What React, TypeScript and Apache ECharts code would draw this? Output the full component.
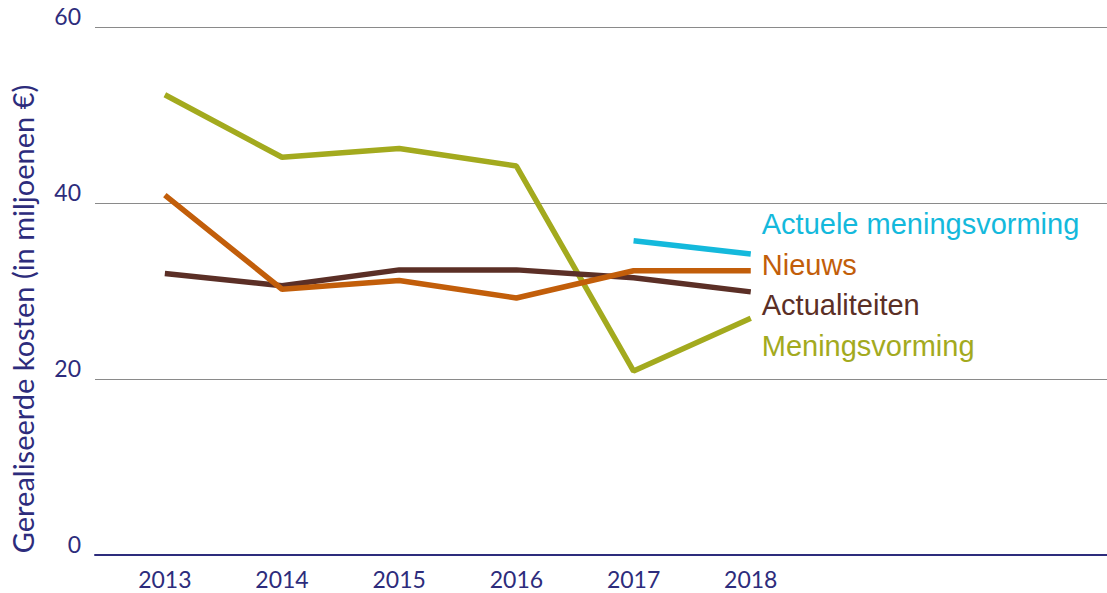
import React, { useEffect, useRef } from "react";
import * as echarts from "echarts";

const years = [2013, 2014, 2015, 2016, 2017, 2018];
const meningsvorming = [52.3, 45.2, 46.2, 44.2, 20.9, 26.9];
const nieuws = [40.9, 30.2, 31.2, 29.2, 32.3, 32.3];
const actualiteiten = [32.0, 30.6, 32.4, 32.4, 31.5, 29.9];
const actueleMeningsvorming = [null, null, null, null, 35.7, 34.2];
const yTicks = [0, 20, 40, 60];

const navy = "#2d2c7c";

function pairs(vals: (number | null)[]) {
  return years
    .map((y, i) => [y, vals[i]])
    .filter((p) => p[1] !== null);
}

export default function App() {
  const ref = useRef<HTMLDivElement>(null);
  useEffect(() => {
    const chart = echarts.init(ref.current!, null, { renderer: "svg" });
    const mk = (name: string, vals: (number | null)[], color: string, dy: number) => ({
      name,
      type: "line",
      data: pairs(vals),
      symbol: "none",
      lineStyle: { color, width: 5.5 },
      itemStyle: { color },
      endLabel: {
        show: true,
        formatter: name,
        color,
        fontFamily: "Liberation Sans, Arial, sans-serif",
        fontSize: 29,
        distance: 11,
        offset: [0, dy],
      },
    });
    chart.setOption({
      animation: false,
      grid: { left: 93, right: 0, top: 27, bottom: 38, containLabel: false },
      xAxis: {
        type: "value",
        min: 2012.404,
        max: 2021.04,
        axisLine: { show: true, lineStyle: { color: navy, width: 2 } },
        axisTick: { show: false },
        splitLine: { show: false },
        axisLabel: {
          customValues: years,
          color: navy,
          fontFamily: "Lato, Open Sans, sans-serif",
          fontSize: 23,
          margin: 12,
          formatter: (v: number) => String(v),
        },
      },
      yAxis: {
        type: "value",
        min: 0,
        max: 60,
        interval: 20,
        name: "Gerealiseerde kosten (in miljoenen €)",
        nameLocation: "middle",
        nameGap: 58,
        nameTextStyle: {
          color: navy,
          fontFamily: "Lato, Open Sans, sans-serif",
          fontSize: 29,
          padding: [0, 56, 0, 0],
        },
        axisLine: { show: false },
        axisTick: { show: false },
        splitLine: { show: true, lineStyle: { color: "#8a8a8a", width: 1 } },
        axisLabel: {
          customValues: yTicks,
          color: navy,
          fontFamily: "Lato, Open Sans, sans-serif",
          fontSize: 23,
          margin: 14,
          verticalAlign: "bottom",
        },
      },
      series: [
        mk("Meningsvorming", meningsvorming, "#a3aa1e", 28),
        mk("Actualiteiten", actualiteiten, "#5b2f26", 13),
        mk("Nieuws", nieuws, "#c25e0a", -6),
        mk("Actuele meningsvorming", actueleMeningsvorming, "#14b9dc", -30),
      ],
    });
    return () => chart.dispose();
  }, []);
  return <div ref={ref} style={{ width: 1107, height: 593, position: "absolute", left: 0, top: 0 }} />;
}
